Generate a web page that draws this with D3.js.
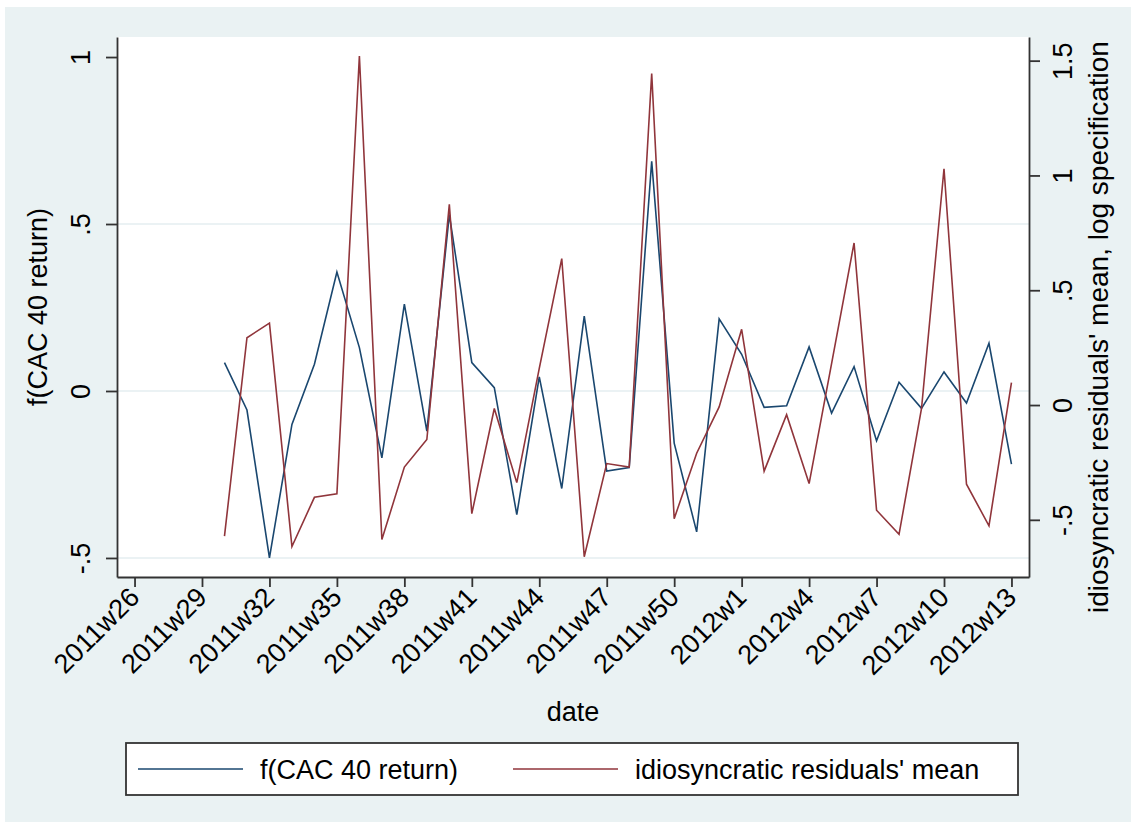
<!DOCTYPE html>
<html>
<head>
<meta charset="utf-8">
<script src="https://cdn.jsdelivr.net/npm/d3@7"></script>
<style>
  body { margin: 0; background: #fff; }
  svg { display: block; font-family: "Liberation Sans", Arial, sans-serif; }
</style>
</head>
<body>
<div id="chart"></div>
<script>
// weekly observations (Stata weekly dates)
var weeks = [
  "2011w30", "2011w31", "2011w32", "2011w33", "2011w34", "2011w35", "2011w36", "2011w37", "2011w38",
  "2011w39", "2011w40", "2011w41", "2011w42", "2011w43", "2011w44", "2011w45", "2011w46", "2011w47",
  "2011w48", "2011w49", "2011w50", "2011w51", "2011w52", "2012w1", "2012w2", "2012w3", "2012w4",
  "2012w5", "2012w6", "2012w7", "2012w8", "2012w9", "2012w10", "2012w11", "2012w12", "2012w13"
];
// f(CAC 40 return), left axis
var cacReturn = [
  0.085, -0.057, -0.5, -0.1, 0.08, 0.356, 0.13, -0.2, 0.26,
  -0.12, 0.528, 0.085, 0.01, -0.37, 0.042, -0.292, 0.224, -0.24,
  -0.229, 0.688, -0.156, -0.422, 0.216, 0.11, -0.049, -0.044, 0.132,
  -0.066, 0.073, -0.149, 0.026, -0.052, 0.057, -0.036, 0.143, -0.219
];
// idiosyncratic residuals' mean, right axis
var residMean = [
  -0.571, 0.293, 0.357, -0.616, -0.402, -0.387, 1.52, -0.586, -0.27,
  -0.15, 0.874, -0.473, -0.015, -0.338, 0.16, 0.638, -0.661, -0.255,
  -0.27, 1.444, -0.495, -0.21, -0.008, 0.33, -0.288, -0.042, -0.342,
  0.18, 0.706, -0.458, -0.563, -0.015, 1.029, -0.345, -0.526, 0.098
];
var xTickLabels = [
  "2011w26", "2011w29", "2011w32", "2011w35", "2011w38", "2011w41", "2011w44",
  "2011w47", "2011w50", "2012w1", "2012w4", "2012w7", "2012w10", "2012w13"
];
var leftTicks = [-0.5, 0, 0.5, 1];
var rightTicks = [-0.5, 0, 0.5, 1, 1.5];
var leftTitle = "f(CAC 40 return)";
var rightTitle = "idiosyncratic residuals' mean, log specification";
var xTitle = "date";
var seriesNames = ["f(CAC 40 return)", "idiosyncratic residuals' mean"];

var W = 1134, H = 826;
var margin = { top: 37, right: 105, bottom: 249, left: 117 },
  width = W - margin.left - margin.right,
  height = H - margin.top - margin.bottom;

var navy = "#1a476f", maroon = "#90353b", bg = "#eaf2f3", axisCol = "#333";

// stata weeks: 52 per year
function weekNum(s) {
  var p = s.split("w");
  return +p[0] * 52 + (+p[1] - 1);
}
function stataFmt(d) {
  return d === 0 ? "0" : String(d).replace(/^(-?)0\./, "$1.");
}

var x = d3.scaleLinear()
  .domain([weekNum(xTickLabels[0]) - 0.78, weekNum(xTickLabels[xTickLabels.length - 1]) + 0.78])
  .range([0, width]);
var yL = d3.scaleLinear().domain([-0.557, 1.06]).range([height, 0]);
var yR = d3.scaleLinear().domain([-0.749, 1.603]).range([height, 0]);

var root = d3.select("#chart").append("svg")
  .attr("width", W)
  .attr("height", H);

// graph region
root.append("rect")
  .attr("x", 5).attr("y", 7)
  .attr("width", W - 8).attr("height", H - 11)
  .attr("fill", bg);

var svg = root.append("g")
  .attr("transform", "translate(" + margin.left + "," + margin.top + ")");

// plot region
svg.append("rect")
  .attr("width", width).attr("height", height)
  .attr("fill", "#fff");

// grid lines
svg.selectAll(".grid")
  .data(leftTicks.filter(function(d) { return d < 1; }))
  .enter()
  .append("line")
  .attr("class", "grid")
  .attr("x1", 0).attr("x2", width)
  .attr("y1", function(d) { return yL(d); })
  .attr("y2", function(d) { return yL(d); })
  .attr("stroke", "#e4eef0")
  .attr("stroke-width", 1.5);

// lines
var data1 = weeks.map(function(w, i) { return { t: weekNum(w), v: cacReturn[i] }; });
var data2 = weeks.map(function(w, i) { return { t: weekNum(w), v: residMean[i] }; });

svg.append("path")
  .datum(data1)
  .attr("fill", "none")
  .attr("stroke", navy)
  .attr("stroke-width", 1.6)
  .attr("d", d3.line().x(function(d) { return x(d.t); }).y(function(d) { return yL(d.v); }));

svg.append("path")
  .datum(data2)
  .attr("fill", "none")
  .attr("stroke", maroon)
  .attr("stroke-width", 1.6)
  .attr("d", d3.line().x(function(d) { return x(d.t); }).y(function(d) { return yR(d.v); }));

function styleAxis(g) {
  g.select(".domain").attr("stroke", axisCol).attr("stroke-width", 1.8);
  g.selectAll(".tick line").attr("stroke", axisCol).attr("stroke-width", 1.8);
  g.selectAll("text").attr("fill", "#000").style("font-size", "27px");
}

// left axis
var gl = svg.append("g")
  .call(d3.axisLeft(yL).tickValues(leftTicks).tickFormat(stataFmt).tickSize(11).tickSizeOuter(0))
  .call(styleAxis);
gl.selectAll(".tick text")
  .attr("x", 0).attr("y", 0).attr("dy", null)
  .attr("text-anchor", "middle")
  .attr("transform", "translate(-27,0) rotate(-90)");

// right axis
var gr = svg.append("g")
  .attr("transform", "translate(" + width + ",0)")
  .call(d3.axisRight(yR).tickValues(rightTicks).tickFormat(stataFmt).tickSize(11).tickSizeOuter(0))
  .call(styleAxis);
gr.selectAll(".tick text")
  .attr("x", 0).attr("y", 0).attr("dy", null)
  .attr("text-anchor", "middle")
  .attr("transform", "translate(43,0) rotate(-90)");

// x axis
var gx = svg.append("g")
  .attr("transform", "translate(0," + height + ")")
  .call(d3.axisBottom(x)
    .tickValues(xTickLabels.map(weekNum))
    .tickFormat(function(d, i) { return xTickLabels[i]; })
    .tickSize(10).tickSizeOuter(0))
  .call(styleAxis);
gx.selectAll(".tick text")
  .attr("x", 0).attr("y", 0).attr("dy", null)
  .attr("text-anchor", "end")
  .attr("transform", "translate(6,22) rotate(-45)");

// axis titles
svg.append("text")
  .attr("transform", "translate(-70," + height / 2 + ") rotate(-90)")
  .attr("text-anchor", "middle")
  .style("font-size", "27px")
  .text(leftTitle);

svg.append("text")
  .attr("transform", "translate(" + (width + 79) + "," + (height / 2 + 20) + ") rotate(-90)")
  .attr("text-anchor", "middle")
  .style("font-size", "28px")
  .text(rightTitle);

svg.append("text")
  .attr("x", width / 2)
  .attr("y", 684)
  .attr("text-anchor", "middle")
  .style("font-size", "27px")
  .text(xTitle);

// legend
var lg = root.append("g").attr("transform", "translate(126,743)");
lg.append("rect")
  .attr("width", 892).attr("height", 52)
  .attr("fill", "#fff")
  .attr("stroke", axisCol)
  .attr("stroke-width", 1.8);
var items = [
  { name: seriesNames[0], color: navy, x: 12 },
  { name: seriesNames[1], color: maroon, x: 387 }
];
items.forEach(function(it) {
  lg.append("line")
    .attr("x1", it.x).attr("x2", it.x + 105)
    .attr("y1", 26).attr("y2", 26)
    .attr("stroke", it.color)
    .attr("stroke-width", 1.6);
  lg.append("text")
    .attr("x", it.x + 122)
    .attr("y", 36)
    .style("font-size", "27px")
    .text(it.name);
});
</script>
</body>
</html>
